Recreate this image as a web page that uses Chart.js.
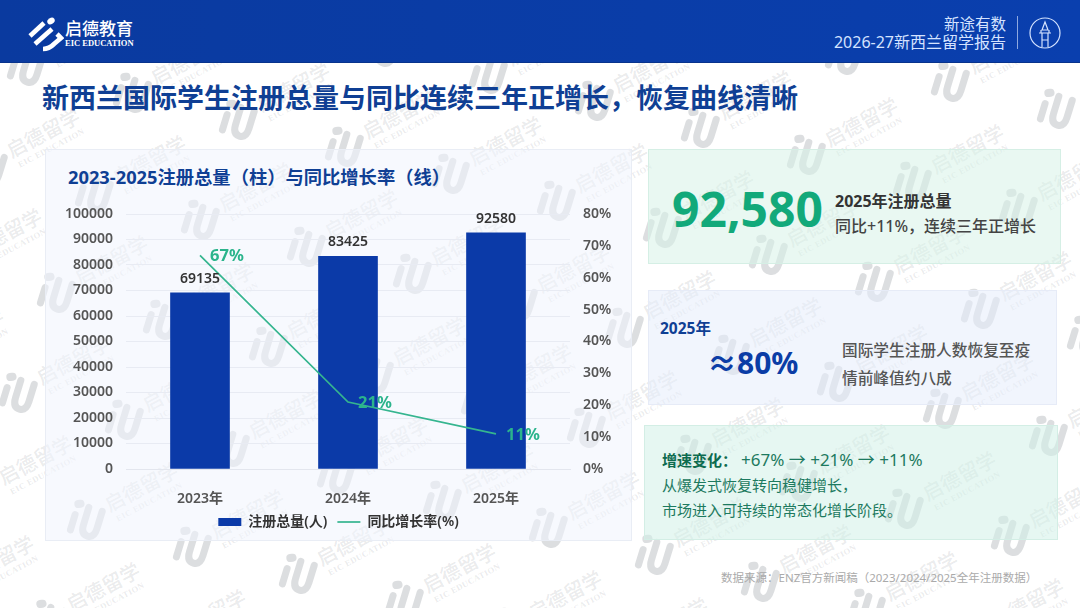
<!DOCTYPE html>
<html lang="zh">
<head>
<meta charset="utf-8">
<title>新西兰国际学生注册总量</title>
<script src="https://cdn.jsdelivr.net/npm/chart.js@4/dist/chart.umd.min.js"></script>
<style>
html, body { margin: 0; padding: 0; }
body { width: 1080px; height: 608px; position: relative; overflow: hidden; background: #fff;
    font-family: "Noto Sans", "Noto Sans CJK SC", sans-serif; color: #444; }
.abs { position: absolute; white-space: nowrap; }
.mid { transform: translateY(-50%); line-height: 1.2; }
#header { left: 0; top: 0; width: 1080px; height: 62px; background: linear-gradient(90deg, #0a3a9f, #0a3fae);
    border-bottom: 1px solid #08338c; }
.card { position: absolute; box-sizing: border-box; }
#wm { position: absolute; left: 0; top: 0; width: 1080px; height: 608px; overflow: hidden; pointer-events: none; }
.wm-text { position: absolute; color: rgba(110,115,125,.15); font-weight: 500; font-size: 20px; line-height: 22px;
    text-align: center; transform: translate(-50%,-50%) rotate(-28deg); white-space: nowrap; }
.wm-text small { display: block; font: 700 8.5px/10px "Liberation Serif", serif; letter-spacing: .4px; }
.wm-iu { position: absolute; width: 36px; height: 38px; transform: translate(-50%,-50%) rotate(17deg); }
</style>
</head>
<body>
<div id="wm"></div>

<div class="abs" id="header"></div>

<!-- logo -->
<svg class="abs" style="left:27px;top:16px" width="37" height="36" viewBox="0 0 37 36">
    <g fill="none" stroke="#fff" stroke-width="4.6">
        <path d="M3 20 L17 7"/>
        <path d="M8 28 L25 13"/>
        <path d="M16 33 Q22 33 27 28 L34 22 L30 18"/>
    </g>
    <ellipse cx="24" cy="5" rx="4" ry="3" fill="#fff" transform="rotate(-35 24 5)"/>
</svg>
<div class="abs mid" style="left:65px;top:29px;font-size:17px;font-weight:500;color:#fff">启德教育</div>
<div class="abs mid" style="left:65px;top:43px;font:700 8.5px 'Liberation Serif',serif;color:#fff">EIC EDUCATION</div>

<div class="abs mid" style="right:74px;top:24px;font-size:15.5px;color:#d5e3ff">新途有数</div>
<div class="abs mid" style="right:74px;top:43px;font-size:16px;color:#d5e3ff">2026-27新西兰留学报告</div>
<div class="abs" style="left:1017px;top:16px;width:1px;height:33px;background:#8fa9e0"></div>
<svg class="abs" style="left:1029px;top:17px" width="32" height="32" viewBox="0 0 32 32">
    <g fill="none" stroke="#d5e3ff" stroke-width="1.2">
        <circle cx="16" cy="16" r="15"/>
        <path d="M16 5 L13 13 H19 Z M10 16 H22 M12 13 V16 M20 13 V16 M13 16 V30 M19 16 V30 M13 23 H19"/>
    </g>
</svg>

<div class="abs mid" style="left:42px;top:98px;font-size:27px;font-weight:700;color:#0f3f94">新西兰国际学生注册总量与同比连续三年正增长，恢复曲线清晰</div>

<!-- chart panel -->
<div class="card" style="left:45px;top:149px;width:587px;height:392px;background:rgba(240,244,253,.55);border:1px solid #e9edf5"></div>
<div class="abs mid" style="left:68px;top:177px;font-size:18.3px;font-weight:700;color:#0f3f94">2023-2025注册总量（柱）与同比增长率（线）</div>
<div class="abs" style="left:45px;top:190px;width:587px;height:350px"><canvas id="regChart" width="587" height="350"></canvas></div>

<!-- green card -->
<div class="card" style="left:648px;top:149px;width:413px;height:115px;background:rgba(215,243,231,.55);border:1px solid #d5efe5"></div>
<div class="abs mid" style="left:672px;top:209px;font-size:48px;font-weight:700;color:#12a97a">92,580</div>
<div class="abs mid" style="left:835px;top:202px;font-size:16px;font-weight:700;color:#333">2025年注册总量</div>
<div class="abs mid" style="left:835px;top:227px;font-size:16px;font-weight:500;color:#444">同比+11%，连续三年正增长</div>

<!-- blue card -->
<div class="card" style="left:648px;top:290px;width:409px;height:115px;background:rgba(230,237,251,.55);border:1px solid #e6ebf7"></div>
<div class="abs mid" style="left:660px;top:328px;font-size:15.5px;font-weight:700;color:#0f3f94">2025年</div>
<div class="abs mid" style="left:707px;top:363px;font-size:30px;font-weight:700;color:#0b3da6">≈80%</div>
<div class="abs mid" style="left:842px;top:350px;font-size:15.7px;font-weight:500;color:#555">国际学生注册人数恢复至疫</div>
<div class="abs mid" style="left:842px;top:378px;font-size:15.7px;font-weight:500;color:#555">情前峰值约八成</div>

<!-- green note -->
<div class="card" style="left:644px;top:425px;width:414px;height:115px;background:rgba(210,241,231,.55);border:1px solid #d3eee5"></div>
<div class="abs mid" style="left:662px;top:460px;font-size:15px;color:#1d7a5f"><b style="color:#0d6b4f">增速变化：</b><span style="font-size:17px;margin-left:4px">+67% → +21% → +11%</span></div>
<div class="abs mid" style="left:662px;top:485px;font-size:15px;color:#1d7a5f">从爆发式恢复转向稳健增长，</div>
<div class="abs mid" style="left:662px;top:510px;font-size:15px;color:#1d7a5f">市场进入可持续的常态化增长阶段。</div>

<div class="abs mid" style="left:721px;top:578px;font-size:11.5px;color:#aaa">数据来源：ENZ官方新闻稿（2023/2024/2025全年注册数据）</div>

<script>
const categories = ["2023年", "2024年", "2025年"];
const totals = [69135, 83425, 92580];
const growth = [67, 21, 11];
const seriesNames = ["注册总量(人)", "同比增长率(%)"];
const fontFamily = '"Noto Sans", "Noto Sans CJK SC", sans-serif';

// watermark tiles, one iu mark and one text mark per cell
const iuMark = '<g fill="none" stroke="rgba(110,115,125,.24)" stroke-width="7" stroke-linecap="round">' +
    '<path d="M6 17 V33"/><path d="M6 6 L8 5" stroke-width="8"/><path d="M17 6 V24 Q17 34 24 34 Q31 34 31 24 V6"/></g>';
let wmHtml = "";
for (let i = -8; i < 16; i++) {
    for (let j = -8; j < 10; j++) {
        let x = 200 + i * 106 + j * 38;
        let y = 220 + i * 27 - j * 100;
        if (x < -80 || x > 1160 || y < -80 || y > 690) continue;
        wmHtml += '<svg class="wm-iu" viewBox="0 0 36 38" style="left:' + x + 'px;top:' + y + 'px">' + iuMark + '</svg>';
        wmHtml += '<div class="wm-text" style="left:' + (x - 48) + 'px;top:' + (y - 55) + 'px">启德留学<small>EIC EDUCATION</small></div>';
    }
}
document.getElementById("wm").innerHTML = wmHtml;

// value labels above bars and beside line points
const valueLabels = {
    id: "valueLabels",
    afterDatasetsDraw(chart) {
        let ctx = chart.ctx;
        ctx.save();
        ctx.font = "600 14px " + fontFamily;
        ctx.fillStyle = "#333";
        ctx.textAlign = "center";
        ctx.textBaseline = "bottom";
        chart.getDatasetMeta(0).data.forEach(function(bar, i) {
            ctx.fillText(totals[i], bar.x, bar.y - 7);
        });
        ctx.font = "700 16.5px " + fontFamily;
        ctx.fillStyle = "#2bb48c";
        ctx.textAlign = "left";
        ctx.textBaseline = "middle";
        chart.getDatasetMeta(1).data.forEach(function(pt, i) {
            ctx.fillText(growth[i] + "%", pt.x + 10, pt.y + 1);
        });
        ctx.restore();
    }
};

new Chart(document.getElementById("regChart").getContext("2d"), {
    data: {
        labels: categories,
        datasets: [
            { type: "bar", label: seriesNames[0], data: totals, yAxisID: "y", backgroundColor: "#0b3aa8",
              barThickness: 59, order: 2, pointStyle: "rect" },
            { type: "line", label: seriesNames[1], data: growth, yAxisID: "y1", borderColor: "#35b58f",
              borderWidth: 1.7, pointRadius: 0, tension: 0, order: 1, pointStyle: "line" }
        ]
    },
    plugins: [valueLabels],
    options: {
        responsive: false,
        animation: false,
        layout: { padding: { top: 24, bottom: 1 } },
        plugins: {
            title: { display: false },
            tooltip: { enabled: false },
            legend: {
                position: "bottom",
                labels: {
                    usePointStyle: true, pointStyleWidth: 23, boxHeight: 8, padding: 10,
                    color: "#333", font: { family: fontFamily, size: 14, weight: "600" },
                    sort: function(a, b) { return a.datasetIndex - b.datasetIndex; }
                }
            }
        },
        scales: {
            x: {
                afterFit(scale) { scale.height = 36; },
                grid: { display: false },
                border: { color: "#e3e6ee" },
                ticks: { color: "#555", padding: 14, font: { family: fontFamily, size: 14, weight: "600" } }
            },
            y: {
                position: "left", min: 0, max: 100000,
                afterFit(scale) { scale.width = 81; },
                grid: { color: "#e8ebf3", drawTicks: false },
                border: { display: false },
                ticks: { stepSize: 10000, padding: 13, color: "#555", font: { family: fontFamily, size: 14, weight: "600" },
                    callback: function(v) { return String(v); } }
            },
            y1: {
                position: "right", min: 0, max: 80,
                afterFit(scale) { scale.width = 62; },
                grid: { display: false, drawTicks: false },
                border: { display: false },
                ticks: { stepSize: 10, padding: 13, color: "#555", font: { family: fontFamily, size: 14, weight: "600" },
                    callback: function(v) { return v + "%"; } }
            }
        }
    }
});
</script>
</body>
</html>
